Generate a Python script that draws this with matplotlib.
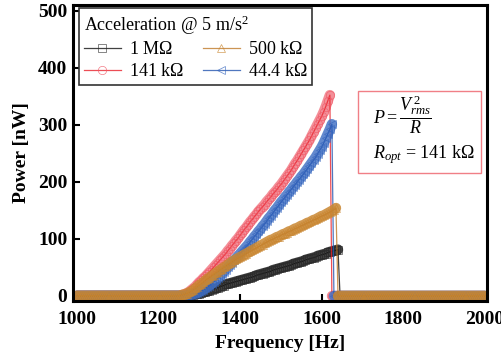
import numpy as np
import matplotlib
matplotlib.use('Agg')
import matplotlib.pyplot as plt
from matplotlib.patches import Rectangle

plt.rcParams['font.family'] = ['Liberation Serif', 'DejaVu Serif']
plt.rcParams['mathtext.fontset'] = 'custom'
plt.rcParams['mathtext.rm'] = 'Liberation Serif'
plt.rcParams['mathtext.it'] = 'Liberation Serif:italic'

# frequency sweep, 5 Hz steps
freq = np.arange(1000, 2001, 5)

# rising part of each curve, start frequency + values at 5 Hz steps
start_1M = 1250
power_1M = [0, 0, 0, 0, 0, 1, 1, 2, 3, 3, 4, 5, 6, 7, 8, 9, 11, 12, 13, 14, 16, 17, 18, 20, 21, 22,
            23, 24, 25, 26, 27, 28, 29, 30, 31, 32, 33, 34, 36, 37, 38, 39, 40, 41, 42, 43, 45, 46,
            47, 48, 49, 50, 51, 52, 53, 54, 56, 57, 58, 59, 60, 61, 63, 64, 65, 66, 67, 68, 70, 71,
            72, 73, 74, 76, 77, 78, 79, 80, 81]

start_141k = 1250
power_141k = [0, 1, 2, 3, 5, 7, 10, 13, 16, 20, 24, 27, 31, 34, 38, 42, 46, 50, 54, 58, 62, 66, 70,
              74, 79, 83, 88, 92, 97, 101, 106, 111, 116, 120, 125, 130, 134, 139, 143, 148, 152,
              156, 160, 165, 169, 173, 178, 182, 186, 191, 195, 200, 205, 210, 215, 220, 226, 232,
              237, 243, 249, 255, 261, 267, 273, 280, 287, 294, 301, 308, 315, 323, 332, 342, 352]

start_500k = 1250
power_500k = [0, 1, 2, 3, 4, 6, 8, 10, 13, 16, 19, 21, 24, 27, 30, 32, 35, 37, 40, 42, 45, 47, 50,
              52, 55, 57, 60, 62, 64, 66, 68, 70, 72, 74, 76, 78, 80, 82, 84, 86, 88, 90, 92, 94,
              96, 98, 99, 101, 103, 104, 106, 108, 109, 111, 113, 114, 116, 118, 119, 121, 123, 124,
              126, 128, 129, 131, 133, 134, 136, 138, 140, 141, 143, 145, 147, 149, 151, 154]

start_44k = 1250
power_44k = [0, 0, 0, 0, 1, 1, 2, 3, 4, 5, 7, 9, 11, 13, 16, 18, 21, 24, 27, 31, 34, 38, 42, 46, 50,
             54, 58, 62, 66, 70, 74, 78, 82, 86, 90, 95, 99, 104, 108, 113, 117, 122, 126, 131, 136,
             140, 145, 150, 154, 159, 164, 168, 173, 177, 182, 186, 191, 195, 200, 204, 209, 213,
             218, 223, 228, 233, 238, 243, 249, 255, 261, 268, 276, 284, 292, 301]


def full_curve(start, values):
    # baseline is 0 outside the resonance branch
    p = np.zeros(len(freq))
    i0 = int(np.searchsorted(freq, start))
    p[i0:i0 + len(values)] = values
    return p, i0 + len(values) - 1


series = [
    ('1 M$\\Omega$', start_1M, power_1M, 's', '#111111', '#2a2a2a', '#1e1e1e'),
    ('141 k$\\Omega$', start_141k, power_141k, 'o', '#e8202a', '#f05a68', '#f27c86'),
    ('44.4 k$\\Omega$', start_44k, power_44k, '<', '#2455b0', '#3565bd', '#4675c6'),
    ('500 k$\\Omega$', start_500k, power_500k, '^', '#c07a28', '#c98630', '#c98630'),
]

fig = plt.figure(figsize=(5.02, 3.6), dpi=100)
ax = fig.add_axes([0.145, 0.164, 0.825, 0.822])

handles = {}
for label, st, vals, mk, lc, mc, bc in series:
    p, ipk = full_curve(st, vals)
    # dense sweep markers merge into a thick band
    ax.plot(freq[:ipk + 1], p[:ipk + 1], color=bc, lw=7.5, alpha=0.85, solid_capstyle='round')
    ax.plot(freq[ipk + 1:], p[ipk + 1:], color=bc, lw=7.5, alpha=0.85, solid_capstyle='round')
    h, = ax.plot(freq, p, color=lc, lw=0.9, marker=mk, ms=6, mfc='none',
                 mec=mc, mew=0.5, alpha=0.8, label=label)
    handles[label] = h

ax.set_xlim(990, 2005)
ax.set_ylim(-9, 510)
ax.set_xticks([1000, 1200, 1400, 1600, 1800, 2000])
ax.set_yticks([0, 100, 200, 300, 400, 500])
ax.tick_params(direction='in', length=5, width=1.5, labelsize=14)
ax.tick_params(axis='x', pad=7)
ax.tick_params(axis='y', pad=4)
for lab in ax.get_xticklabels() + ax.get_yticklabels():
    lab.set_fontweight('bold')
for s in ax.spines.values():
    s.set_linewidth(2.2)

ax.set_xlabel('Frequency [Hz]', fontsize=14, fontweight='bold', labelpad=5)
ax.set_ylabel('Power [nW]', fontsize=14, fontweight='bold', labelpad=6)

order = ['1 M$\\Omega$', '141 k$\\Omega$', '500 k$\\Omega$', '44.4 k$\\Omega$']
leg = ax.legend([handles[k] for k in order], order, ncol=2, loc='upper left',
                bbox_to_anchor=(0.015, 0.99), borderaxespad=0,
                title='Acceleration @ 5 m/s$^2$', title_fontsize=13, fontsize=13,
                fancybox=False, framealpha=1, edgecolor='#333333',
                handlelength=2.0, handletextpad=0.45, columnspacing=1.1,
                labelspacing=0.25, borderpad=0.3, alignment='left')
leg.get_frame().set_linewidth(1.2)

ax.add_patch(Rectangle((0.689, 0.432), 0.2965, 0.277, transform=ax.transAxes,
                       fill=False, edgecolor='#f07f86', lw=1.0))
ax.text(0.725, 0.63, r'$P=\dfrac{V_{rms}^{\,2}}{R}$', transform=ax.transAxes,
        fontsize=13, va='center', ha='left')
ax.text(0.725, 0.495, r'$R_{opt}$ = 141 k$\Omega$', transform=ax.transAxes,
        fontsize=13, va='center', ha='left')

fig.savefig('out.png', dpi=100)
